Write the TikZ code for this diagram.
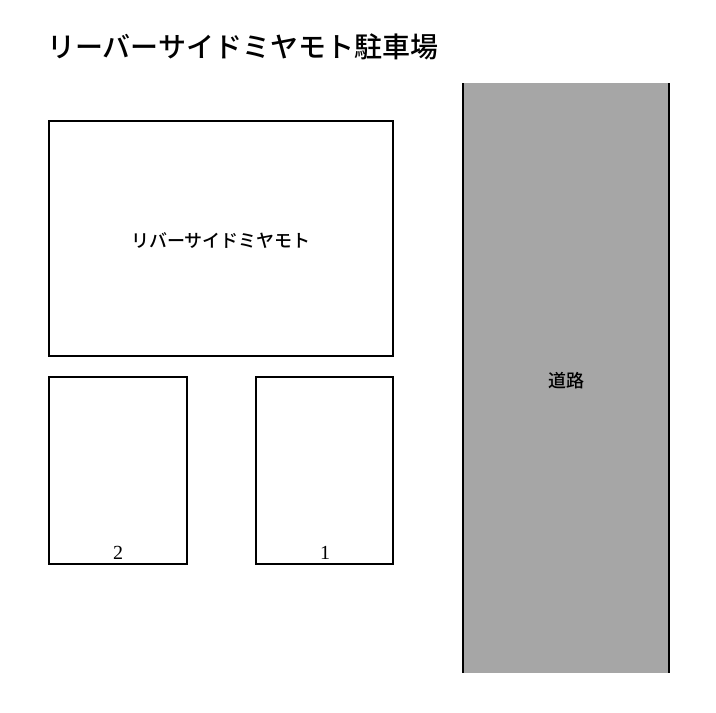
\documentclass[tikz,border=0pt]{standalone}
\usepackage{fontspec}
\setmainfont{Liberation Serif}
\newfontfamily\jafont{Noto Sans CJK JP Medium}
\definecolor{gris}{HTML}{A6A6A6}

\begin{document}
\begin{tikzpicture}[x=1pt, y=-1pt]
  \tikzstyle{cadre}=[draw=black, line width=2.4pt];
  \tikzstyle{texteja}=[inner sep=0, font=\jafont\fontsize{18}{18}\selectfont];
  \tikzstyle{numero}=[inner sep=0, font=\fontsize{20}{20}\selectfont];

  \useasboundingbox (0, 0) rectangle (716, 713);

  \coordinate (B1) at (49, 121);
  \coordinate (B2) at (393, 356);
  \coordinate (P2a) at (49, 377);
  \coordinate (P2b) at (187, 564);
  \coordinate (P1a) at (256, 377);
  \coordinate (P1b) at (393, 564);
  \coordinate (R1) at (463, 83);
  \coordinate (R2) at (669, 673);

  % route
  \fill[gris] (R1) rectangle (R2);
  \draw[line width=2.4pt] (R1) -- (R1 |- R2);
  \draw[line width=2.4pt] (R1 -| R2) -- (R2);

  % batiment et places
  \draw[cadre] (B1) rectangle (B2);
  \foreach \P in {P1, P2} {
    \draw[cadre] (\P a) rectangle (\P b);
  }

  \node[anchor=west, inner sep=0, font=\jafont\fontsize{28}{28}\selectfont] (titre) at (47, 47) {リーバーサイドミヤモト駐車場};
  \node[texteja] (batiment) at (221, 241) {リバーサイドミヤモト};
  \node[texteja] (route) at (566, 381) {道路};
  \node[numero] (num2) at (118, 553) {2};
  \node[numero] (num1) at (325, 553) {1};
\end{tikzpicture}
\end{document}
